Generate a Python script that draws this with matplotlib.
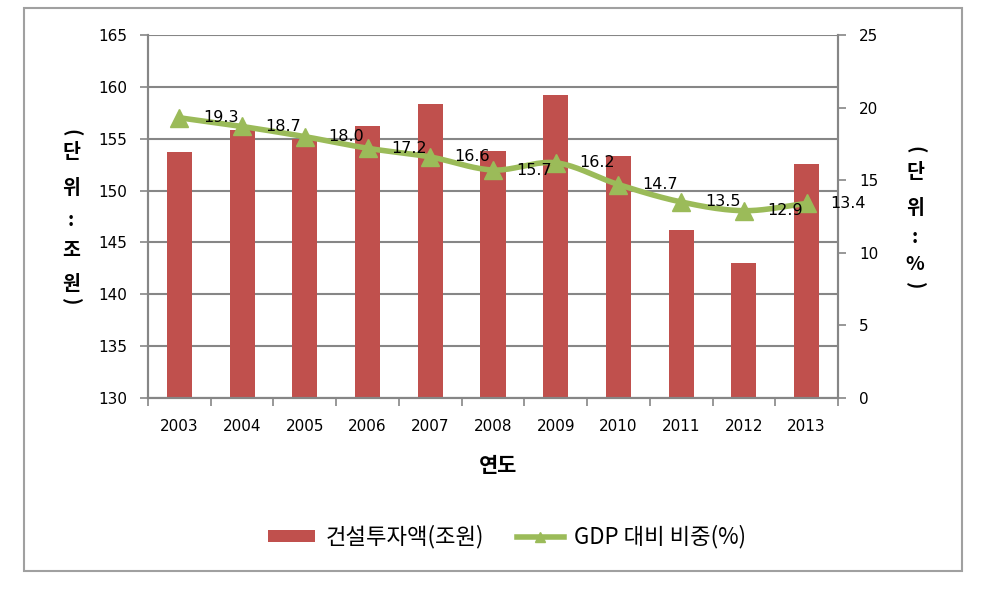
import numpy as np
import matplotlib
matplotlib.use("Agg")
import matplotlib.pyplot as plt
from matplotlib.patches import Rectangle
from matplotlib.lines import Line2D
from matplotlib.patches import Patch

plt.rcParams['font.family'] = ['DejaVu Sans', 'Noto Sans CJK KR']
KR = ['Noto Sans CJK KR', 'DejaVu Sans']

years = ['2003', '2004', '2005', '2006', '2007', '2008', '2009', '2010', '2011', '2012', '2013']
invest = [153.7, 155.8, 155.0, 156.2, 158.3, 153.8, 159.2, 153.3, 146.2, 143.0, 152.6]
gdp_share = [19.3, 18.7, 18.0, 17.2, 16.6, 15.7, 16.2, 14.7, 13.5, 12.9, 13.4]

bar_color = '#C0504D'
line_color = '#9BBB59'
grid_color = '#868686'

fig = plt.figure(figsize=(9.97, 5.92), dpi=100)
ax = fig.add_axes([148/997, 1-398/592, (838-148)/997, (398-35)/592])
ax2 = ax.twinx()

x = np.arange(len(years))
ax.bar(x, [v - 130 for v in invest], bottom=130, width=0.4, color=bar_color, zorder=2)
ax.set_ylim(130, 165)
ax.set_xlim(-0.5, len(years) - 0.5)
ax.set_yticks(np.arange(130, 166, 5))
ax.set_xticks(x)
ax.set_xticklabels(years)
ax.set_xticks(np.arange(-0.5, len(years), 1), minor=True)
ax.tick_params(axis='x', which='major', length=0, pad=15, labelsize=11)
ax.tick_params(axis='x', which='minor', length=6, color=grid_color, width=1.2, direction='out')
ax.tick_params(axis='y', length=6, color=grid_color, width=1.2, labelsize=11, pad=9)
ax.yaxis.grid(True, color=grid_color, linewidth=1.5, zorder=0)
ax.set_axisbelow(True)
for s in ['top']:
    ax.spines[s].set_visible(False)
    ax2.spines[s].set_visible(False)
for s in ['left', 'bottom', 'right']:
    ax.spines[s].set_color(grid_color)
    ax.spines[s].set_linewidth(1.5)
    ax2.spines[s].set_color(grid_color)
    ax2.spines[s].set_linewidth(1.5)

# smoothed line (Catmull-Rom through the data points)
def catmull(xs, ys, n=20):
    xs = np.asarray(xs, float); ys = np.asarray(ys, float)
    px = np.concatenate([[2*xs[0]-xs[1]], xs, [2*xs[-1]-xs[-2]]])
    py = np.concatenate([[2*ys[0]-ys[1]], ys, [2*ys[-1]-ys[-2]]])
    ox, oy = [], []
    for i in range(1, len(px) - 2):
        t = np.linspace(0, 1, n, endpoint=False)
        for arr, out in ((px, ox), (py, oy)):
            p0, p1, p2, p3 = arr[i-1], arr[i], arr[i+1], arr[i+2]
            out.extend(0.5*((2*p1) + (-p0+p2)*t + (2*p0-5*p1+4*p2-p3)*t**2 + (-p0+3*p1-3*p2+p3)*t**3))
    ox.append(xs[-1]); oy.append(ys[-1])
    return np.array(ox), np.array(oy)

sx, sy = catmull(x, gdp_share)
ax2.plot(sx, sy, color=line_color, linewidth=4, zorder=3, solid_capstyle='round')
ax2.plot(x, gdp_share, linestyle='none', marker='^', markersize=13, color=line_color, zorder=4)
for xi, v in zip(x, gdp_share):
    ax2.annotate(f'{v:.1f}', (xi, v), xytext=(17, 0), textcoords='offset points',
                 ha='left', va='center', fontsize=11.5, color='black', zorder=5)
ax2.set_ylim(0, 25)
ax2.set_yticks(np.arange(0, 26, 5))
ax2.tick_params(axis='y', length=6, color=grid_color, width=1.2, labelsize=11, pad=9)
ax.set_zorder(1); ax2.set_zorder(2); ax2.patch.set_visible(False)

# axis titles
fig.text(498/997, 1-466/592, '연도', ha='center', va='center', fontsize=15,
         fontweight='bold', family=KR)

def vtext(xc, items):
    for ch, yc in items:
        rot = -90 if ch in '()' else 0
        fig.text(xc/997, 1-yc/592, ch, ha='center', va='center', rotation=rot,
                 fontsize=14, fontweight='bold', family=KR)

vtext(71, [('(', 133), ('단', 153), ('위', 189), (':', 221), ('조', 250), ('원', 284), (')', 302)])
vtext(915, [('(', 150), ('단', 173), ('위', 208), (':', 238), ('%', 265), (')', 286)])

# legend
handles = [Patch(facecolor=bar_color, edgecolor='none'),
           Line2D([0], [0], color=line_color, linewidth=4, marker='^', markersize=7)]
fig.legend(handles, ['건설투자액(조원)', 'GDP 대비 비중(%)'], loc='center',
           bbox_to_anchor=(507/997, 1-537/592), ncol=2, frameon=False,
           prop={'family': KR, 'size': 16},
           handlelength=2.1, handleheight=0.4, columnspacing=1.5, handletextpad=0.45)

# outer frame
fig.patches.append(Rectangle((24/997, 1-571/592), (962-24)/997, (571-8)/592,
                             transform=fig.transFigure, fill=False, edgecolor='#A0A0A0',
                             linewidth=1.5))

fig.savefig('out.png', dpi=100)
